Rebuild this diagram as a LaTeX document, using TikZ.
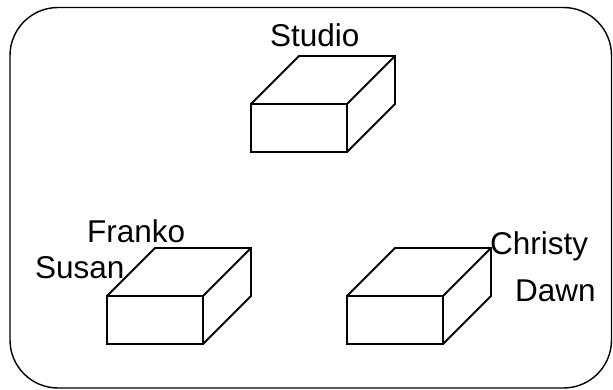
\documentclass[tikz,border=0pt]{standalone}
\usepackage{fontspec}
\setmainfont{Liberation Sans}

\begin{document}
\begin{tikzpicture}[x=1pt,y=-1pt,line join=miter,
  lbl/.style={font=\fontsize{31.5}{36}\selectfont, inner sep=0pt, anchor=base west},
  crate/.pic={%front face, then top and side
    \draw[line width=1.9pt] (0,0) rectangle (96,48);
    \draw[line width=1.9pt] (0,0) -- (48,-48) -- (144,-48) -- (144,0) -- (96,48);
    \draw[line width=1.9pt] (96,0) -- (144,-48);
  }]
\useasboundingbox (0,0) rectangle (613,390);
% outer frame
\draw[rounded corners=48pt, line width=1.4pt] (10,7.5) rectangle (611.5,388);

% boxes
\pic (studiobox) at (251,104) {crate};
\pic (leftbox) at (107,296) {crate};
\pic (rightbox) at (347,296) {crate};

% labels
\node[lbl] (studio) at (270,46.5) {Studio};
\node[lbl] (franko) at (87,243) {Franko};
\node[lbl] (susan) at (35,278) {Susan};
\node[lbl] (christy) at (490,254.5) {Christy};
\node[lbl] (dawn) at (515,301.5) {Dawn};
\end{tikzpicture}
\end{document}
